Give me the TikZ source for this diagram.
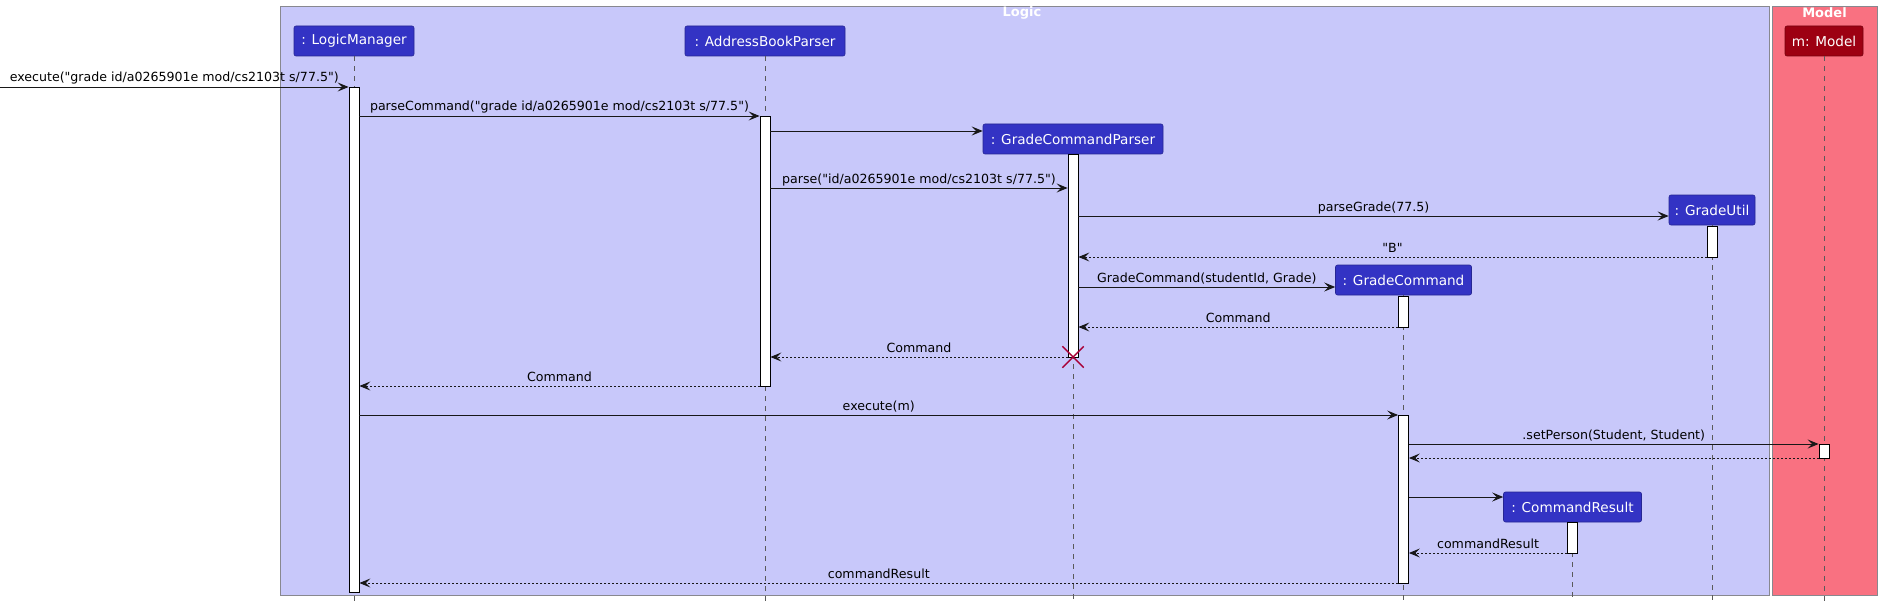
\documentclass[tikz,border=0pt]{standalone}
\usepackage{fontspec}
\setmainfont{DejaVu Sans}[Ligatures=TeXOff]
\usetikzlibrary{arrows.meta,shapes.misc}
\definecolor{logicbg}{HTML}{C8C8FA}
\definecolor{modelbg}{HTML}{F97181}
\definecolor{logicc}{HTML}{3333C4}
\definecolor{modelc}{HTML}{9D0012}
\definecolor{framec}{HTML}{88888F}
\definecolor{lifec}{HTML}{5A5A5A}
\definecolor{arrc}{HTML}{181818}
\definecolor{destroyc}{HTML}{A80036}
\tikzset{
  frame/.style={draw=framec, line width=0.9pt, inner sep=0pt},
  ftitle/.style={text=white, font=\bfseries\fontsize{13}{15}\selectfont, inner sep=0pt},
  part/.style={draw=#1!75!black, fill=#1, rounded corners=2pt, text=white,
    font=\fontsize{13.6}{16}\selectfont, minimum height=30pt, inner sep=0pt, line width=0.6pt},
  act/.style={draw=black, fill=white, line width=0.8pt, minimum width=10pt, inner sep=0pt},
  life/.style={draw=lifec, line width=0.8pt, dash pattern=on 5pt off 5pt},
  msg/.style={draw=arrc, line width=0.9pt, -{Stealth[length=11pt, width=9pt, inset=4.5pt]}},
  ret/.style={msg, dash pattern=on 2pt off 2pt},
  lbl/.style={font=\fontsize{12.6}{15}\selectfont, text=black, anchor=base, yshift=5pt, inner sep=0pt},
}
\begin{document}
\begin{tikzpicture}[x=1pt,y=-1pt]
\useasboundingbox (0,0) rectangle (1882,607);
% frames
\node[frame, fill=logicbg, minimum width=1489pt, minimum height=589pt] (logic) at (1024.5,300.5) {};
\node[frame, fill=modelbg, minimum width=105pt, minimum height=589pt] (model) at (1824.5,300.5) {};
\node[ftitle] (logicT) at (1022,13) {Logic};
\node[ftitle] (modelT) at (1824.5,13) {Model};
% participants
\node[part=logicc, minimum width=120pt] (LM) at (354,41) {: LogicManager};
\node[part=logicc, minimum width=160pt] (ABP) at (765,41) {: AddressBookParser};
\node[part=logicc, minimum width=180pt] (GCP) at (1073,139) {: GradeCommandParser};
\node[part=logicc, minimum width=86pt] (GU) at (1712,210) {: GradeUtil};
\node[part=logicc, minimum width=136pt] (GC) at (1403.5,280) {: GradeCommand};
\node[part=logicc, minimum width=138pt] (CR) at (1572.5,507) {: CommandResult};
\node[part=modelc, minimum width=78pt] (M) at (1824,41) {m: Model};
% bottom
\coordinate (bot) at (0,602);
% lifelines
\foreach \p in {LM,ABP,GCP,GU,GC,CR,M}{
  \draw[life] (\p.south) -- (\p.south |- bot);
}
% activations
\node[act, minimum height=505pt] (aLM) at (354,339.5) {};
\node[act, minimum height=270pt] (aABP) at (765,251) {};
\node[act, minimum height=203pt] (aGCP) at (1073,255.5) {};
\node[act, minimum height=31pt] (aGU) at (1712,241.5) {};
\node[act, minimum height=31pt] (aGC1) at (1403.5,311.5) {};
\node[act, minimum height=168pt] (aGC2) at (1403.5,499) {};
\node[act, minimum height=14pt] (aM) at (1824,451) {};
\node[act, minimum height=31pt] (aCR) at (1572.5,537.5) {};
% destroy
\node[cross out, draw=destroyc, line width=1.4pt, minimum size=20pt, inner sep=0pt] (xd) at (1073,357) {};
% rows
\coordinate (r1) at (0,87);
\coordinate (r2) at (0,116);
\coordinate (r3) at (0,131);
\coordinate (r4) at (0,188);
\coordinate (r5) at (0,216);
\coordinate (r6) at (0,257);
\coordinate (r7) at (0,287);
\coordinate (r8) at (0,327);
\coordinate (r9) at (0,357);
\coordinate (r10) at (0,386);
\coordinate (r11) at (0,415);
\coordinate (r12) at (0,444);
\coordinate (r13) at (0,458);
\coordinate (r14) at (0,497);
\coordinate (r15) at (0,553);
\coordinate (r16) at (0,583);
% messages
\draw[msg] (r1) -- (aLM.west |- r1) node[lbl, midway] {execute("grade id/a0265901e mod/cs2103t s/77.5")};
\draw[msg] (aLM.east |- r2) -- (aABP.west |- r2) node[lbl, midway] {parseCommand("grade id/a0265901e mod/cs2103t s/77.5")};
\draw[msg] (aABP.east |- r3) -- (GCP.west |- r3);
\draw[msg] (aABP.east |- r4) -- (aGCP.west |- r4) node[lbl, midway] {parse("id/a0265901e mod/cs2103t s/77.5")};
\draw[msg] (aGCP.east |- r5) -- (GU.west |- r5) node[lbl, midway] {parseGrade(77.5)};
\draw[ret] (aGU.west |- r6) -- (aGCP.east |- r6) node[lbl, midway] {"B"};
\draw[msg] (aGCP.east |- r7) -- (GC.west |- r7) node[lbl, midway] {GradeCommand(studentId, Grade)};
\draw[ret] (aGC1.west |- r8) -- (aGCP.east |- r8) node[lbl, midway] {Command};
\draw[ret] (aGCP.west |- r9) -- (aABP.east |- r9) node[lbl, midway] {Command};
\draw[ret] (aABP.west |- r10) -- (aLM.east |- r10) node[lbl, midway] {Command};
\draw[msg] (aLM.east |- r11) -- (aGC2.west |- r11) node[lbl, midway] {execute(m)};
\draw[msg] (aGC2.east |- r12) -- (aM.west |- r12) node[lbl, midway] {.setPerson(Student, Student)};
\draw[ret] (aM.west |- r13) -- (aGC2.east |- r13);
\draw[msg] (aGC2.east |- r14) -- (CR.west |- r14);
\draw[ret] (aCR.west |- r15) -- (aGC2.east |- r15) node[lbl, midway] {commandResult};
\draw[ret] (aGC2.west |- r16) -- (aLM.east |- r16) node[lbl, midway] {commandResult};
\end{tikzpicture}
\end{document}
